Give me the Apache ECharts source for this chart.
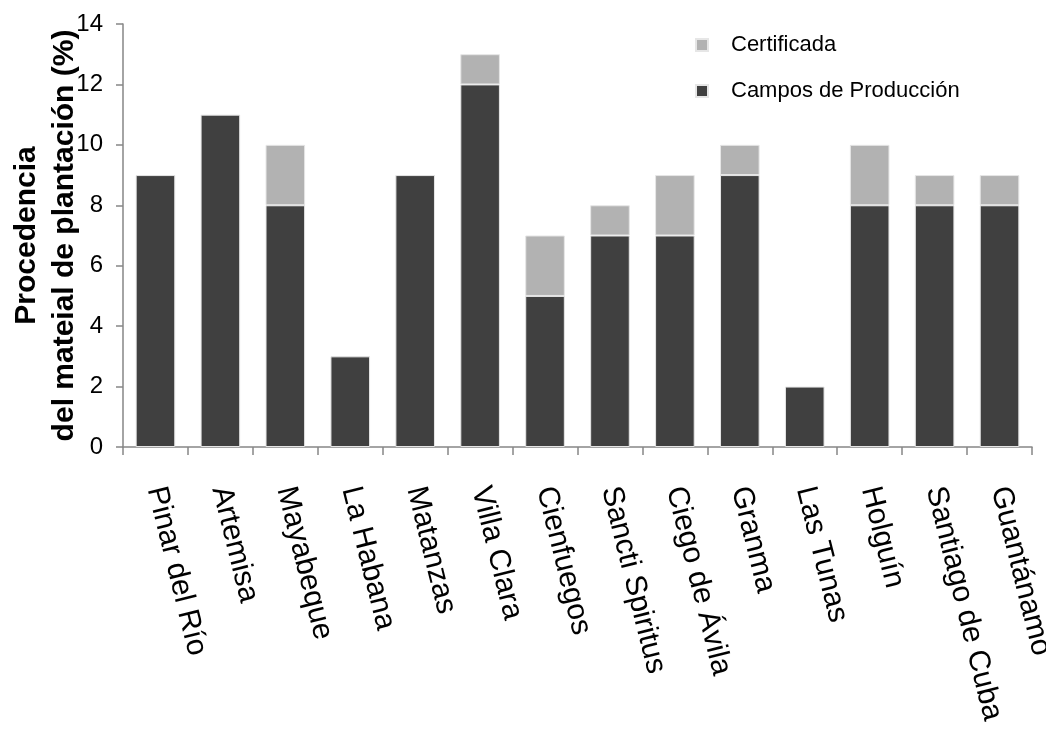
<!DOCTYPE html>
<html>
<head>
<meta charset="utf-8">
<script src="https://cdn.jsdelivr.net/npm/echarts@6/dist/echarts.min.js"></script>
<style>
  html, body { margin: 0; padding: 0; background: #fff; }
  #chart { width: 1046px; height: 729px; }
</style>
</head>
<body>
<div id="chart"></div>
<script>
// Provinces of Cuba
const provincias = ['Pinar del Río', 'Artemisa', 'Mayabeque', 'La Habana', 'Matanzas', 'Villa Clara',
  'Cienfuegos', 'Sancti Spiritus', 'Ciego de Ávila', 'Granma', 'Las Tunas', 'Holguín',
  'Santiago de Cuba', 'Guantánamo'];

// Origin of planting material (%)
const camposProduccion = [9, 11, 8, 3, 9, 12, 5, 7, 7, 9, 2, 8, 8, 8];
const certificada = [0, 0, 2, 0, 0, 1, 2, 1, 2, 1, 0, 2, 1, 1];

const yTicks = { min: 0, max: 14, interval: 2 };

const FONT = '"Liberation Sans", Arial, sans-serif';

const chart = echarts.init(document.getElementById('chart'), null, { renderer: 'canvas' });

const barStyle = (color) => ({ color: color, borderColor: '#e6e6e6', borderWidth: 1 });

chart.setOption({
  animation: false,
  backgroundColor: '#ffffff',
  grid: { left: 123, right: 14, top: 24, bottom: 282, containLabel: false, outerBoundsMode: 'none' },
  legend: {
    orient: 'vertical',
    left: 690,
    top: 29,
    itemWidth: 12,
    itemHeight: 12,
    itemGap: 24,
    icon: 'rect',
    data: ['Certificada', 'Campos de Producción'],
    textStyle: { fontFamily: FONT, fontSize: 22, color: '#000', padding: [0, 0, 0, 18] }
  },
  xAxis: {
    type: 'category',
    data: provincias,
    axisLine: { lineStyle: { color: '#868686', width: 1.5 } },
    axisTick: { show: true, length: 8, alignWithLabel: false, lineStyle: { color: '#868686', width: 1.5 } },
    axisLabel: {
      interval: 0,
      rotate: -76,
      margin: 40,
      fontFamily: FONT,
      fontSize: 30,
      color: '#000'
    }
  },
  yAxis: {
    type: 'value',
    min: yTicks.min,
    max: yTicks.max,
    interval: yTicks.interval,
    name: 'Procedencia\ndel mateial de plantación (%)',
    nameLocation: 'middle',
    nameGap: 39,
    nameRotate: 90,
    nameMoveOverlap: false,
    nameTextStyle: { fontFamily: FONT, fontSize: 30, fontWeight: 'bold', color: '#000', lineHeight: 38 },
    axisLine: { show: true, lineStyle: { color: '#868686', width: 1.5 } },
    axisTick: { show: true, inside: false, length: 7, lineStyle: { color: '#868686', width: 1.5 } },
    splitLine: { show: false },
    axisLabel: { margin: 20, fontFamily: FONT, fontSize: 24, color: '#000' }
  },
  series: [
    {
      name: 'Campos de Producción',
      type: 'bar',
      stack: 'total',
      barWidth: '61%',
      itemStyle: barStyle('#404040'),
      data: camposProduccion
    },
    {
      name: 'Certificada',
      type: 'bar',
      stack: 'total',
      barWidth: '61%',
      itemStyle: barStyle('#b2b2b2'),
      data: certificada.map(v => (v === 0 ? '-' : v))
    }
  ]
});
</script>
</body>
</html>
